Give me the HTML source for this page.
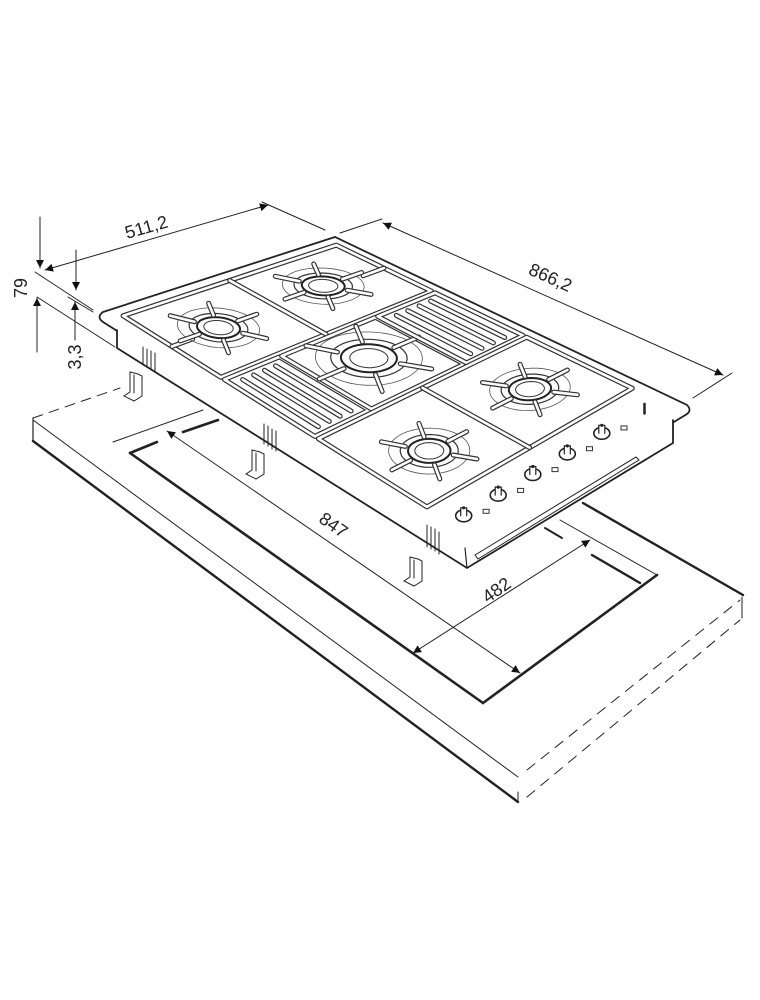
<!DOCTYPE html>
<html><head><meta charset="utf-8"><style>
html,body{margin:0;padding:0;background:#fff;}
svg{display:block;}
text{font-family:"Liberation Sans",sans-serif;fill:#222;}
</style></head><body>
<svg id="s" width="760" height="1000" viewBox="0 0 760 1000" xmlns="http://www.w3.org/2000/svg">
<defs>
<marker id="ar" viewBox="0 0 10 10" refX="10" refY="5" markerWidth="10" markerHeight="8" orient="auto-start-reverse" markerUnits="userSpaceOnUse"><path d="M0,0 L10,5 L0,10 z" fill="#111"/></marker>
</defs>
<g fill="none" stroke="#222" stroke-linecap="round">
<!-- countertop -->
<line x1="33" y1="418" x2="120" y2="388" stroke-width="1" stroke-dasharray="10,7"/>
<line x1="33" y1="418" x2="33" y2="440" stroke-width="1.2"/>
<line x1="33" y1="420" x2="518" y2="777" stroke-width="1"/>
<line x1="33" y1="441" x2="518" y2="802" stroke-width="2.4"/>
<line x1="518" y1="792" x2="518" y2="802" stroke-width="1"/>
<line x1="527" y1="770" x2="740" y2="600" stroke-width="1" stroke-dasharray="10,8"/>
<line x1="527" y1="797" x2="740" y2="620" stroke-width="1" stroke-dasharray="10,8"/>
<line x1="742" y1="597" x2="742" y2="618" stroke-width="1"/>
<line x1="583" y1="503" x2="743" y2="595" stroke-width="2.4"/>
<!-- cutout -->
<line x1="130" y1="453" x2="483" y2="703" stroke-width="2.6"/>
<line x1="483" y1="703" x2="657" y2="575" stroke-width="2.6"/>
<line x1="657" y1="575" x2="560" y2="520" stroke-width="1"/>
<line x1="592" y1="555" x2="640" y2="583" stroke-width="2.4"/>
<line x1="545" y1="528" x2="562" y2="538" stroke-width="2"/>
<line x1="113" y1="442" x2="203" y2="410" stroke-width="1"/>
<line x1="130" y1="453" x2="157" y2="442" stroke-width="2.6"/>
<line x1="183" y1="432" x2="218" y2="420" stroke-width="2.6"/>
<!-- 847 & 482 -->
<line x1="167" y1="431" x2="520" y2="673" stroke-width="1" marker-start="url(#ar)" marker-end="url(#ar)"/>
<line x1="413" y1="653" x2="590" y2="540" stroke-width="1" marker-start="url(#ar)" marker-end="url(#ar)"/>
<!-- hob body -->
<path d="M103,312 L335,237 L687,405 Q692,410 687,414 L467,548 Q463,550 459,547 L103,322 Q96,317 103,312 z" fill="#fff" stroke-width="1.8"/>
<path d="M117,330 L117,348 L467,568 L673,443 L673,420" fill="#fff" stroke-width="1.8"/>
<line x1="465" y1="548" x2="467" y2="568" stroke-width="1.2"/>
<path d="M475,555 L636,457 L639,460 L478,559 z" stroke-width="1"/>
<!-- vents -->
<g stroke-width="1">
<path d="M143,347 v18 M147,349 v18 M151,351 v18 M155,353 v18"/>
<path d="M264,424 v20 M268,426 v20 M272,429 v20 M276,431 v20"/>
<path d="M427,525 v22 M431,527 v22 M435,529 v22 M439,532 v22"/>
</g>
<!-- brackets -->
<g stroke-width="1">
<path d="M130,372 v20 l-6,4 l10,5 l8,-5 v-20 l-4,-2 z M134,375 v18"/>
<path d="M252,450 v20 l-6,4 l10,5 l8,-5 v-20 l-4,-2 z M256,453 v18"/>
<path d="M410,557 v20 l-6,4 l10,5 l8,-5 v-20 l-4,-2 z M414,560 v18"/>
</g>
<!-- dimension 511,2 / 866,2 -->
<line x1="45" y1="270" x2="268" y2="205" stroke-width="1" marker-start="url(#ar)" marker-end="url(#ar)"/>
<line x1="262" y1="202" x2="325" y2="230" stroke-width="1"/>
<line x1="383" y1="223" x2="723" y2="375" stroke-width="1" marker-start="url(#ar)" marker-end="url(#ar)"/>
<line x1="340" y1="233" x2="382" y2="219" stroke-width="1"/>
<line x1="693" y1="398" x2="732" y2="373" stroke-width="1"/>
<line x1="35" y1="272" x2="93" y2="310" stroke-width="1"/>
<line x1="37" y1="297" x2="115" y2="347" stroke-width="1"/>
<line x1="68" y1="297" x2="93" y2="312" stroke-width="1"/>
<!-- 79 / 3,3 -->
<line x1="40" y1="217" x2="40" y2="268" stroke-width="1" marker-end="url(#ar)"/>
<line x1="37" y1="352" x2="37" y2="298" stroke-width="1" marker-end="url(#ar)"/>
<line x1="76" y1="250" x2="76" y2="290" stroke-width="1" marker-end="url(#ar)"/>
<line x1="75" y1="340" x2="75" y2="302" stroke-width="1" marker-end="url(#ar)"/>
<g id="hob"></g>
</g>
<text x="0" y="0" font-size="18" transform="translate(148,233) rotate(-16)" text-anchor="middle">511,2</text>
<text x="0" y="0" font-size="18" transform="translate(548,283) rotate(24)" text-anchor="middle">866,2</text>
<text x="0" y="0" font-size="18" transform="translate(27,288) rotate(-90)" text-anchor="middle">79</text>
<text x="0" y="0" font-size="18" transform="translate(81,357) rotate(-90)" text-anchor="middle">3,3</text>
<text x="0" y="0" font-size="18" transform="translate(330,530) rotate(35)" text-anchor="middle">847</text>
<text x="0" y="0" font-size="18" transform="translate(500,595) rotate(-35)" text-anchor="middle">482</text>
</svg>
<script>
(function(){
var A=[103,312],B=[335,237],C=[687,405],D=[465,542];
function P(s,t){return [(1-s)*(1-t)*A[0]+s*(1-t)*D[0]+(1-s)*t*B[0]+s*t*C[0],(1-s)*(1-t)*A[1]+s*(1-t)*D[1]+(1-s)*t*B[1]+s*t*C[1]];}
function f(p){return p[0].toFixed(1)+","+p[1].toFixed(1);}
var out=[];
function poly(pts,st){out.push('<path d="M'+pts.map(function(q){return f(P(q[0],q[1]));}).join(" L")+' z" '+st+'/>');}
function line(a,b,st){out.push('<path d="M'+f(P(a[0],a[1]))+' L'+f(P(b[0],b[1]))+'" '+st+'/>');}
function rect(s0,s1,t0,t1,st){poly([[s0,t0],[s1,t0],[s1,t1],[s0,t1]],st);}
var DK='stroke="#333" stroke-width="5" fill="none" stroke-linejoin="round"';
var WH='stroke="#fff" stroke-width="2.6" fill="none" stroke-linejoin="round"';
function bar(a,b){line(a,b,DK);line(a,b,WH);}
function frame(s0,s1,t0,t1){rect(s0,s1,t0,t1,DK);rect(s0,s1,t0,t1,WH);}
function circ(sc,tc,R,st){var pts=[];for(var i=0;i<40;i++){var a=i/40*Math.PI*2;pts.push([sc+R*Math.cos(a)/866,tc+R*Math.sin(a)/511]);}poly(pts,st);}
function pt(sc,tc,R,a){return [sc+R*Math.cos(a)/866,tc+R*Math.sin(a)/511];}
function burner(sc,tc,r,big){
  var n=big?6:6;
  circ(sc,tc,r*2.1,'stroke="#555" stroke-width="0.8" fill="none"');
  circ(sc,tc,r*1.5,'stroke="#333" stroke-width="1.2" fill="#fff"');
  circ(sc,tc,r*1.1,'stroke="#222" stroke-width="2" fill="#fff"');
  circ(sc,tc,r*0.75,'stroke="#333" stroke-width="1" fill="#fff"');
  for(var i=0;i<n;i++){var a=i/n*Math.PI*2+0.5;bar(pt(sc,tc,r*1.3,a),pt(sc,tc,r*2.6,a));}
}
// left grate
frame(0.03,0.30,0.04,0.96);
bar([0.03,0.5],[0.30,0.5]);
bar([0.165,0.04],[0.165,0.13]);bar([0.165,0.87],[0.165,0.96]);
burner(0.16,0.25,32,false);
burner(0.15,0.72,32,false);
// middle column
frame(0.31,0.56,0.04,0.28);
for(var k=1;k<5;k++){bar([0.33,0.04+k*0.048],[0.54,0.04+k*0.048]);}
frame(0.31,0.56,0.29,0.70);
burner(0.42,0.50,42,true);
frame(0.31,0.56,0.71,0.96);
for(var k=1;k<5;k++){bar([0.33,0.71+k*0.05],[0.54,0.71+k*0.05]);}
// right grate
frame(0.57,0.87,0.04,0.96);
bar([0.57,0.5],[0.87,0.5]);
burner(0.74,0.26,32,false);
burner(0.72,0.74,32,false);
// knobs
for(var j=0;j<5;j++){
  var t=0.10+j*0.155;var c=P(0.935,t);
  out.push('<ellipse cx="'+c[0].toFixed(1)+'" cy="'+(c[1]+2).toFixed(1)+'" rx="8" ry="6" fill="#fff" stroke="#222" stroke-width="1.6"/>');
  out.push('<path d="M'+(c[0]-3).toFixed(1)+','+(c[1]+2).toFixed(1)+' v-8 h6 v8" fill="#fff" stroke="#222" stroke-width="1.2"/>');
  out.push('<circle cx="'+c[0].toFixed(1)+'" cy="'+(c[1]-6).toFixed(1)+'" r="1.6" fill="#222" stroke="none"/>');
  var d=P(0.96,t+0.06);
  out.push('<rect x="'+(d[0]-3).toFixed(1)+'" y="'+(d[1]-2).toFixed(1)+'" width="6" height="4" fill="none" stroke="#333" stroke-width="1"/>');
}
line([0.93,0.92],[0.955,0.88],'stroke="#222" stroke-width="2.5" fill="none"');
document.getElementById('hob').innerHTML=out.join('');
})();
</script>
</body></html>
